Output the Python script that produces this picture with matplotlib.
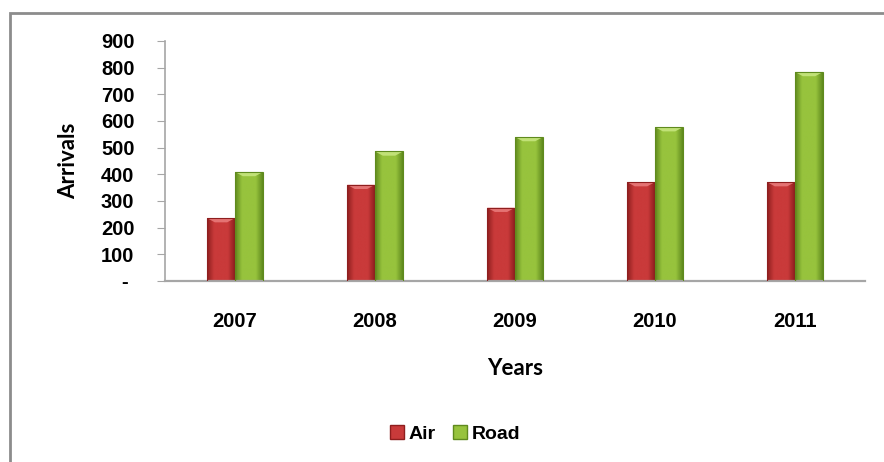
import matplotlib
matplotlib.use("Agg")
import matplotlib.pyplot as plt
import numpy as np
from matplotlib.patches import Rectangle, Polygon
from matplotlib.colors import LinearSegmentedColormap

years = ["2007", "2008", "2009", "2010", "2011"]
air = [236, 361, 275, 371, 371]
road = [409, 486, 540, 577, 784]
series_names = ["Air", "Road"]
yticks = [0, 100, 200, 300, 400, 500, 600, 700, 800, 900]
ytick_labels = ["- ", "100", "200", "300", "400", "500", "600", "700", "800", "900"]

W, H = 884, 462
fig = plt.figure(figsize=(W / 100, H / 100), dpi=100)
fig.patch.set_facecolor("white")

# outer frame (cropped on right and bottom)
fig.add_artist(Rectangle((10 / W, -0.05), 1.2, (H - 13) / H + 0.05,
                         transform=fig.transFigure, fill=False,
                         edgecolor="#8c8c8c", linewidth=2.0))

ax = fig.add_axes([165 / W, (H - 281) / H, (865 - 165) / W, (281 - 41) / H])

x = np.arange(len(years))
bw = 0.2

styles = [
    dict(base="#c93a3a", dark="#8e1e1e", light="#e87a7a"),
    dict(base="#97c33d", dark="#5f8a1e", light="#c6e57e"),
]

def shade_bars(bars, st):
    cmap = LinearSegmentedColormap.from_list(
        "g", [st["dark"], st["base"], st["base"], st["base"], st["dark"]])
    grad = np.linspace(0, 1, 64).reshape(1, -1)
    for b in bars:
        x0, y0 = b.get_x(), b.get_y()
        w, h = b.get_width(), b.get_height()
        im = ax.imshow(grad, extent=(x0, x0 + w, y0, y0 + h), aspect="auto",
                       cmap=cmap, zorder=2, interpolation="bilinear")
        im.set_clip_path(b)
        bev = 16  # bevel depth in data units
        poly = Polygon([(x0, y0 + h), (x0 + w, y0 + h),
                        (x0 + w * 0.72, y0 + h - bev), (x0 + w * 0.28, y0 + h - bev)],
                       closed=True, facecolor=st["light"], edgecolor="none",
                       zorder=3, alpha=0.9)
        ax.add_patch(poly)

bars_air = ax.bar(x - bw / 2, air, width=bw, color=styles[0]["base"],
                  edgecolor=styles[0]["dark"], linewidth=0.8, zorder=2,
                  label=series_names[0])
bars_road = ax.bar(x + bw / 2, road, width=bw, color=styles[1]["base"],
                   edgecolor=styles[1]["dark"], linewidth=0.8, zorder=2,
                   label=series_names[1])
shade_bars(bars_air, styles[0])
shade_bars(bars_road, styles[1])
for b in list(bars_air) + list(bars_road):
    b.set_zorder(4)
    b.set_facecolor("none")

ax.set_xlim(-0.5, len(years) - 0.5)
ax.set_ylim(0, 900)

for s in ["top", "right"]:
    ax.spines[s].set_visible(False)
ax.spines["left"].set_color("#a6a6a6")
ax.spines["bottom"].set_color("#a6a6a6")
ax.spines["left"].set_linewidth(1.2)
ax.spines["bottom"].set_linewidth(1.6)

ax.set_yticks(yticks)
ax.set_yticklabels(ytick_labels)
ax.set_xticks(x)
ax.set_xticklabels(years)
ax.tick_params(axis="y", direction="out", length=6, color="#a6a6a6", pad=16,
               labelsize=14.5)
ax.tick_params(axis="x", length=0, pad=22, labelsize=14.5)
for lab in ax.get_yticklabels() + ax.get_xticklabels():
    lab.set_fontfamily(["Liberation Sans", "DejaVu Sans"])
    lab.set_fontweight("bold")

ax.set_xlabel("Years", fontfamily=["Lato", "DejaVu Sans"], fontweight="bold",
              fontsize=16, labelpad=20)
ax.set_ylabel("Arrivals", fontfamily=["Lato", "DejaVu Sans"], fontweight="bold",
              fontsize=16, labelpad=16)

handles = [Rectangle((0, 0), 1, 1, facecolor=styles[0]["base"], edgecolor=styles[0]["dark"]),
           Rectangle((0, 0), 1, 1, facecolor=styles[1]["base"], edgecolor=styles[1]["dark"])]
leg = fig.legend(handles, series_names, loc="center", bbox_to_anchor=(455 / W, (H - 434) / H),
                 ncol=2, frameon=False, handlelength=0.7, handleheight=0.7,
                 handletextpad=0.25, columnspacing=0.9,
                 prop={"family": ["Liberation Sans"], "size": 14, "weight": "bold"})

fig.savefig("out.png", dpi=100, facecolor="white")
